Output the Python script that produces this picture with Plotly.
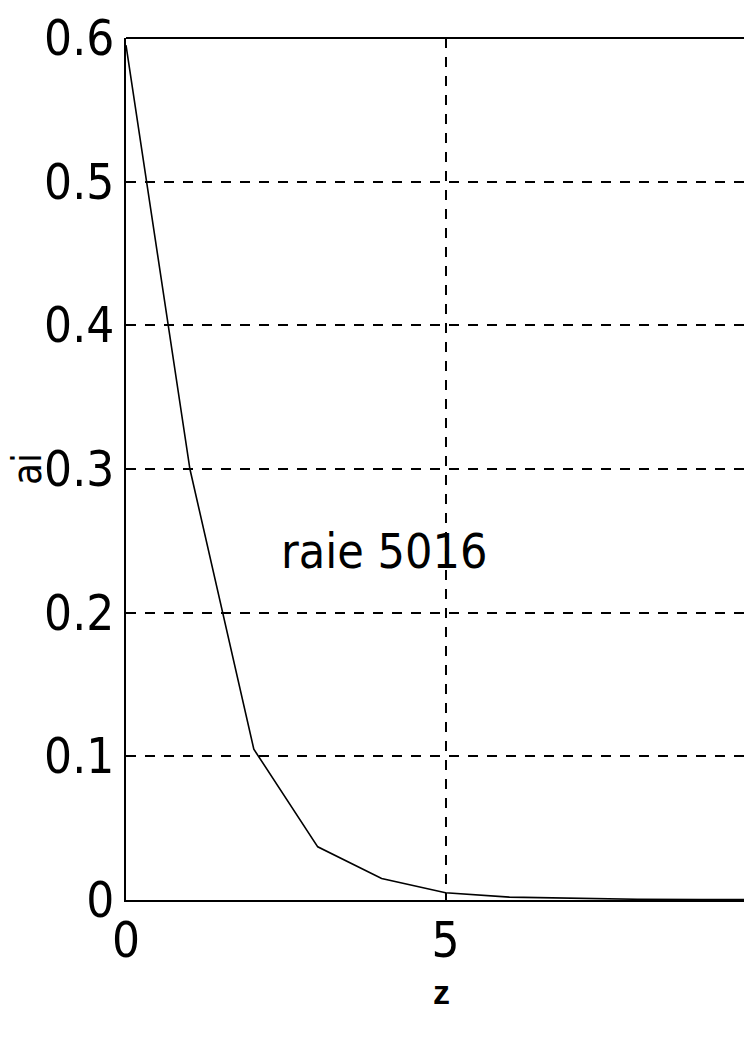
import plotly.graph_objects as go

# Coefficient a_i versus z for line 5016
z_values = [0, 1, 2, 3, 4, 5, 6, 7, 8, 9, 10]
a_values = [0.595, 0.300, 0.105, 0.037, 0.015, 0.005, 0.002, 0.001, 0.0005, 0.0003, 0.0002]

x_tick_vals = [0, 5, 10]
y_tick_vals = [0, 0.1, 0.2, 0.3, 0.4, 0.5, 0.6]
y_tick_text = ["0", "0.1", "0.2", "0.3", "0.4", "0.5", "0.6"]

narrow = "Liberation Sans Narrow, DejaVu Sans Condensed, Roboto Condensed, sans-serif"
label_font = dict(family=narrow, size=49, color="black")

fig = go.Figure()
fig.add_trace(go.Scatter(
    x=z_values, y=a_values, mode="lines",
    line=dict(color="black", width=1.6),
    showlegend=False,
))

fig.add_annotation(
    x=4.03, y=0.243, text="raie 5016", showarrow=False,
    font=dict(family=narrow, size=48, color="black"), xanchor="center", yanchor="middle",
)

# axis titles
fig.add_annotation(
    xref="paper", yref="paper", x=0, y=0.5, xshift=-99, text="ai", textangle=-90,
    showarrow=False, font=dict(family=narrow, size=40, color="black"),
    xanchor="center", yanchor="middle",
)
fig.add_annotation(
    xref="paper", yref="paper", x=0.510, y=0, yshift=-92, text="<b>z</b>",
    showarrow=False, font=dict(family="Arial, sans-serif", size=34, color="black"),
    xanchor="center", yanchor="middle",
)

grid_dash = "10px,9px"

fig.update_layout(
    width=744, height=1044,
    margin=dict(l=126, r=0, t=38, b=144),
    paper_bgcolor="white", plot_bgcolor="white",
    xaxis=dict(
        range=[0, 9.67], tickvals=x_tick_vals, ticktext=["0", "5", "10"],
        showgrid=True, gridcolor="black", gridwidth=1.5, griddash=grid_dash,
        showline=True, linecolor="black", linewidth=2, mirror=False,
        ticks="inside", ticklen=8, tickcolor="black",
        tickfont=label_font, zeroline=False, ticklabelstandoff=-4,
    ),
    yaxis=dict(
        range=[0, 0.6], tickvals=y_tick_vals, ticktext=y_tick_text,
        showgrid=True, gridcolor="black", gridwidth=1.5, griddash=grid_dash,
        showline=True, linecolor="black", linewidth=2, mirror=False,
        ticks="inside", ticklen=8, tickcolor="black",
        tickfont=label_font, zeroline=False, ticklabelstandoff=0,
    ),
)

# top frame line
fig.add_shape(type="line", xref="paper", yref="paper", x0=0, x1=1, y0=1, y1=1,
              line=dict(color="black", width=2))

fig.write_html("out.html")
